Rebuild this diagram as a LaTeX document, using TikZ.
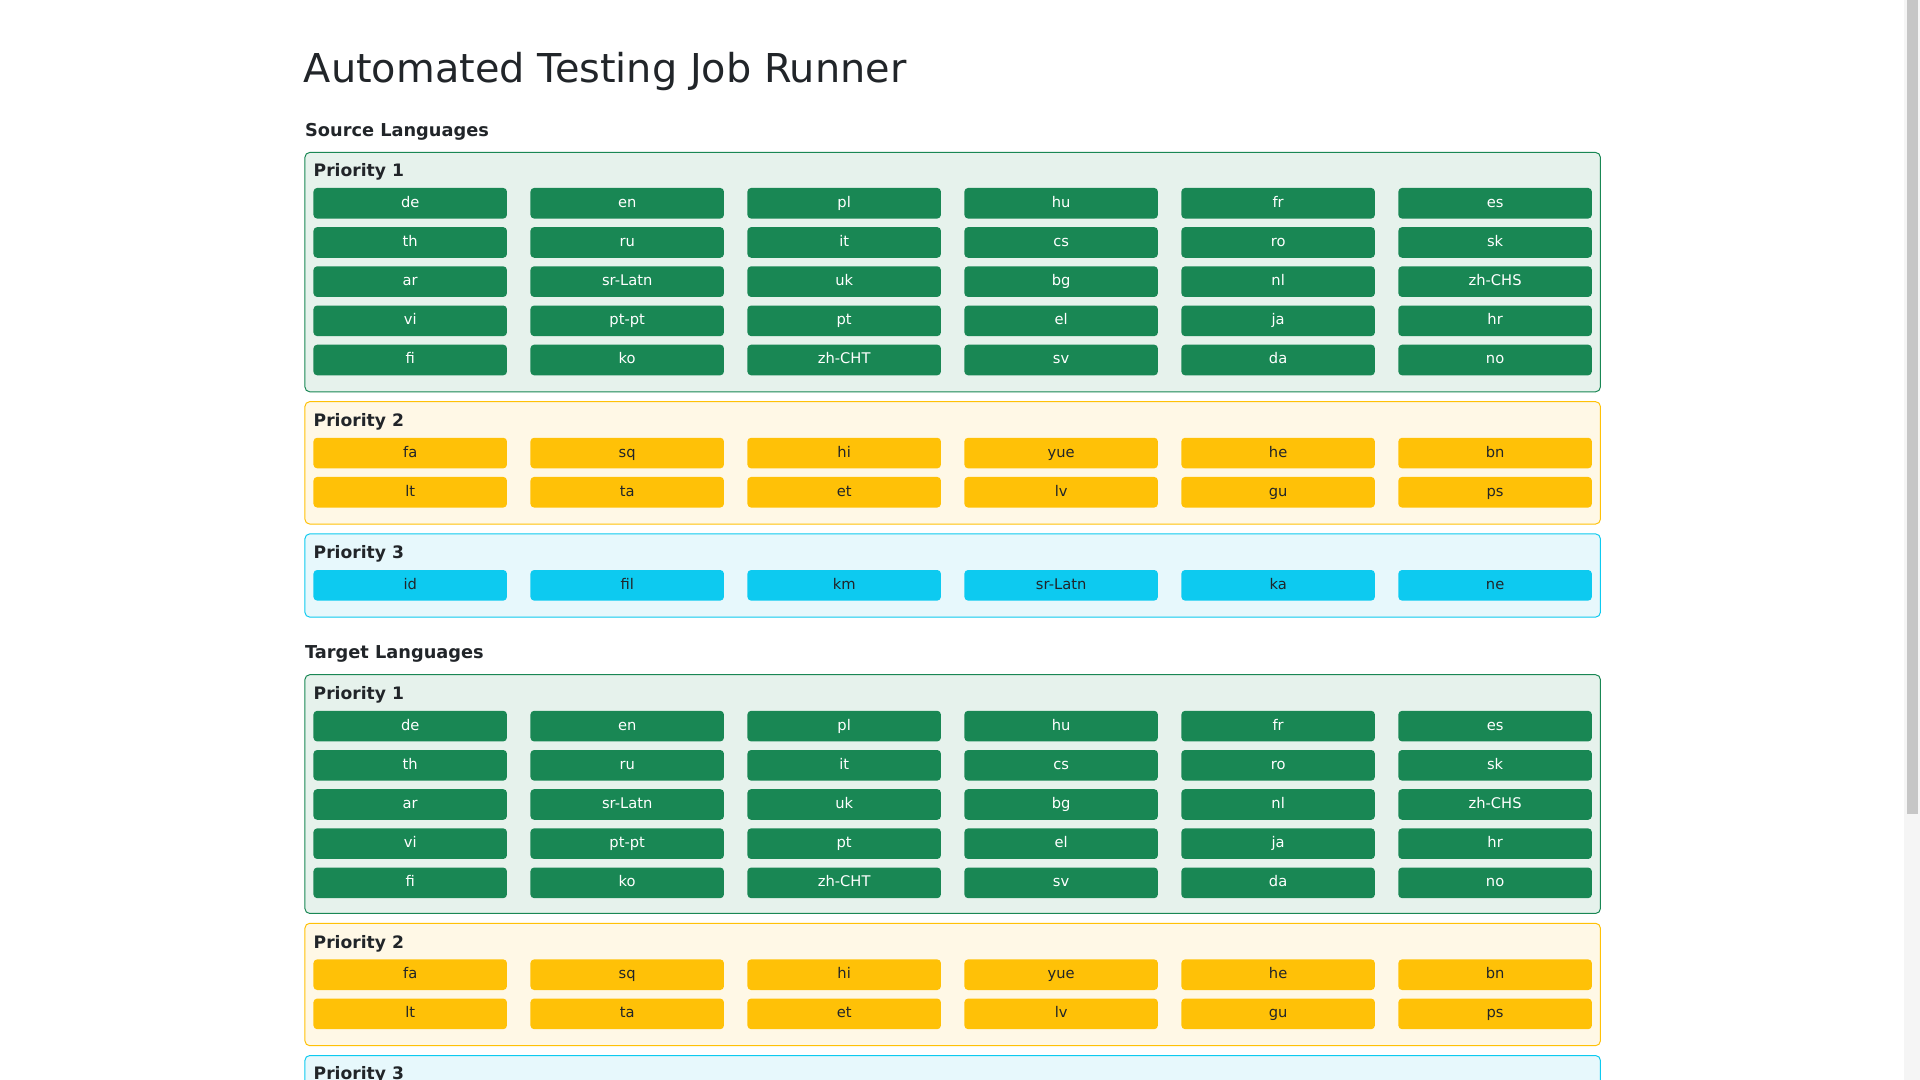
\documentclass[tikz,border=0pt]{standalone}
\usepackage{fontspec}
\setmainfont{DejaVu Sans}
\definecolor{gA}{HTML}{198754}\definecolor{gB}{HTML}{E6F2EC}
\definecolor{yA}{HTML}{FFC107}\definecolor{yB}{HTML}{FFF8E6}
\definecolor{cA}{HTML}{0DCAF0}\definecolor{cB}{HTML}{E7F8FC}
\definecolor{tx}{HTML}{212529}
\tikzset{x=1pt,y=-1pt,
 cell/.style={rounded corners=3pt,minimum width=158pt,minimum height=25pt,inner sep=0pt,text height=9pt,text depth=2.5pt,font=\fontsize{12}{12}\selectfont},
 gcell/.style={cell,fill=gA,text=white},
 ycell/.style={cell,fill=yA,text=tx},
 ccell/.style={cell,fill=cA,text=tx},
 box/.style={rounded corners=4pt,line width=0.8pt},
 plab/.style={anchor=west,font=\bfseries\fontsize{14}{14}\selectfont,text=tx,inner sep=0pt,text height=10pt,text depth=3pt},
 hlab/.style={anchor=west,font=\bfseries\fontsize{14.5}{14.5}\selectfont,text=tx,inner sep=0pt,text height=10.5pt,text depth=3pt}}
\newcommand{\cellrow}[4]{% style, y, list, prefix
 \foreach \t [count=\i] in {#3}{\node[#1] (#4\i) at ({335+177.2*(\i-1)},#2) {\t};}}
\begin{document}
\begin{tikzpicture}
\useasboundingbox (0,0) rectangle (1568,882);
\clip (0,0) rectangle (1568,882);
\fill[white] (0,0) rectangle (1568,882);
\fill[gray!8] (1555,0) rectangle (1568,882);
\fill[gray!45] (1557,0) rectangle (1566,665);
\node[anchor=west,inner sep=0pt,text=tx,font=\fontsize{32.5}{32.5}\selectfont,text height=24pt,text depth=7pt] (title) at (248,59) {Automated Testing Job Runner};
% Source
\node[hlab] (src) at (249,108) {Source Languages};
\draw[box,fill=gB,draw=gA] (249,124.5) rectangle (1307,320);
\node[plab] (sp1) at (256,141) {Priority 1};
\cellrow{gcell}{166}{de,en,pl,hu,fr,es}{sa}
\cellrow{gcell}{198}{th,ru,it,cs,ro,sk}{sb}
\cellrow{gcell}{230}{ar,sr-Latn,uk,bg,nl,zh-CHS}{sc}
\cellrow{gcell}{262}{vi,pt-pt,pt,el,ja,hr}{sd}
\cellrow{gcell}{294}{fi,ko,zh-CHT,sv,da,no}{se}
\draw[box,fill=yB,draw=yA] (249,328) rectangle (1307,428);
\node[plab] (sp2) at (256,345) {Priority 2};
\cellrow{ycell}{370}{fa,sq,hi,yue,he,bn}{sf}
\cellrow{ycell}{402}{lt,ta,et,lv,gu,ps}{sg}
\draw[box,fill=cB,draw=cA] (249,436) rectangle (1307,504);
\node[plab] (sp3) at (256,453) {Priority 3};
\cellrow{ccell}{478}{id,fil,km,sr-Latn,ka,ne}{sh}
% Target
\node[hlab] (tgt) at (249,534) {Target Languages};
\draw[box,fill=gB,draw=gA] (249,551) rectangle (1307,746);
\node[plab] (tp1) at (256,568) {Priority 1};
\cellrow{gcell}{593}{de,en,pl,hu,fr,es}{ta}
\cellrow{gcell}{625}{th,ru,it,cs,ro,sk}{tb}
\cellrow{gcell}{657}{ar,sr-Latn,uk,bg,nl,zh-CHS}{tc}
\cellrow{gcell}{689}{vi,pt-pt,pt,el,ja,hr}{td}
\cellrow{gcell}{721}{fi,ko,zh-CHT,sv,da,no}{te}
\draw[box,fill=yB,draw=yA] (249,754) rectangle (1307,854);
\node[plab] (tp2) at (256,771) {Priority 2};
\cellrow{ycell}{796}{fa,sq,hi,yue,he,bn}{tf}
\cellrow{ycell}{828}{lt,ta,et,lv,gu,ps}{tg}
\draw[box,fill=cB,draw=cA] (249,862) rectangle (1307,930);
\node[plab] (tp3) at (256,878) {Priority 3};
\end{tikzpicture}
\end{document}
